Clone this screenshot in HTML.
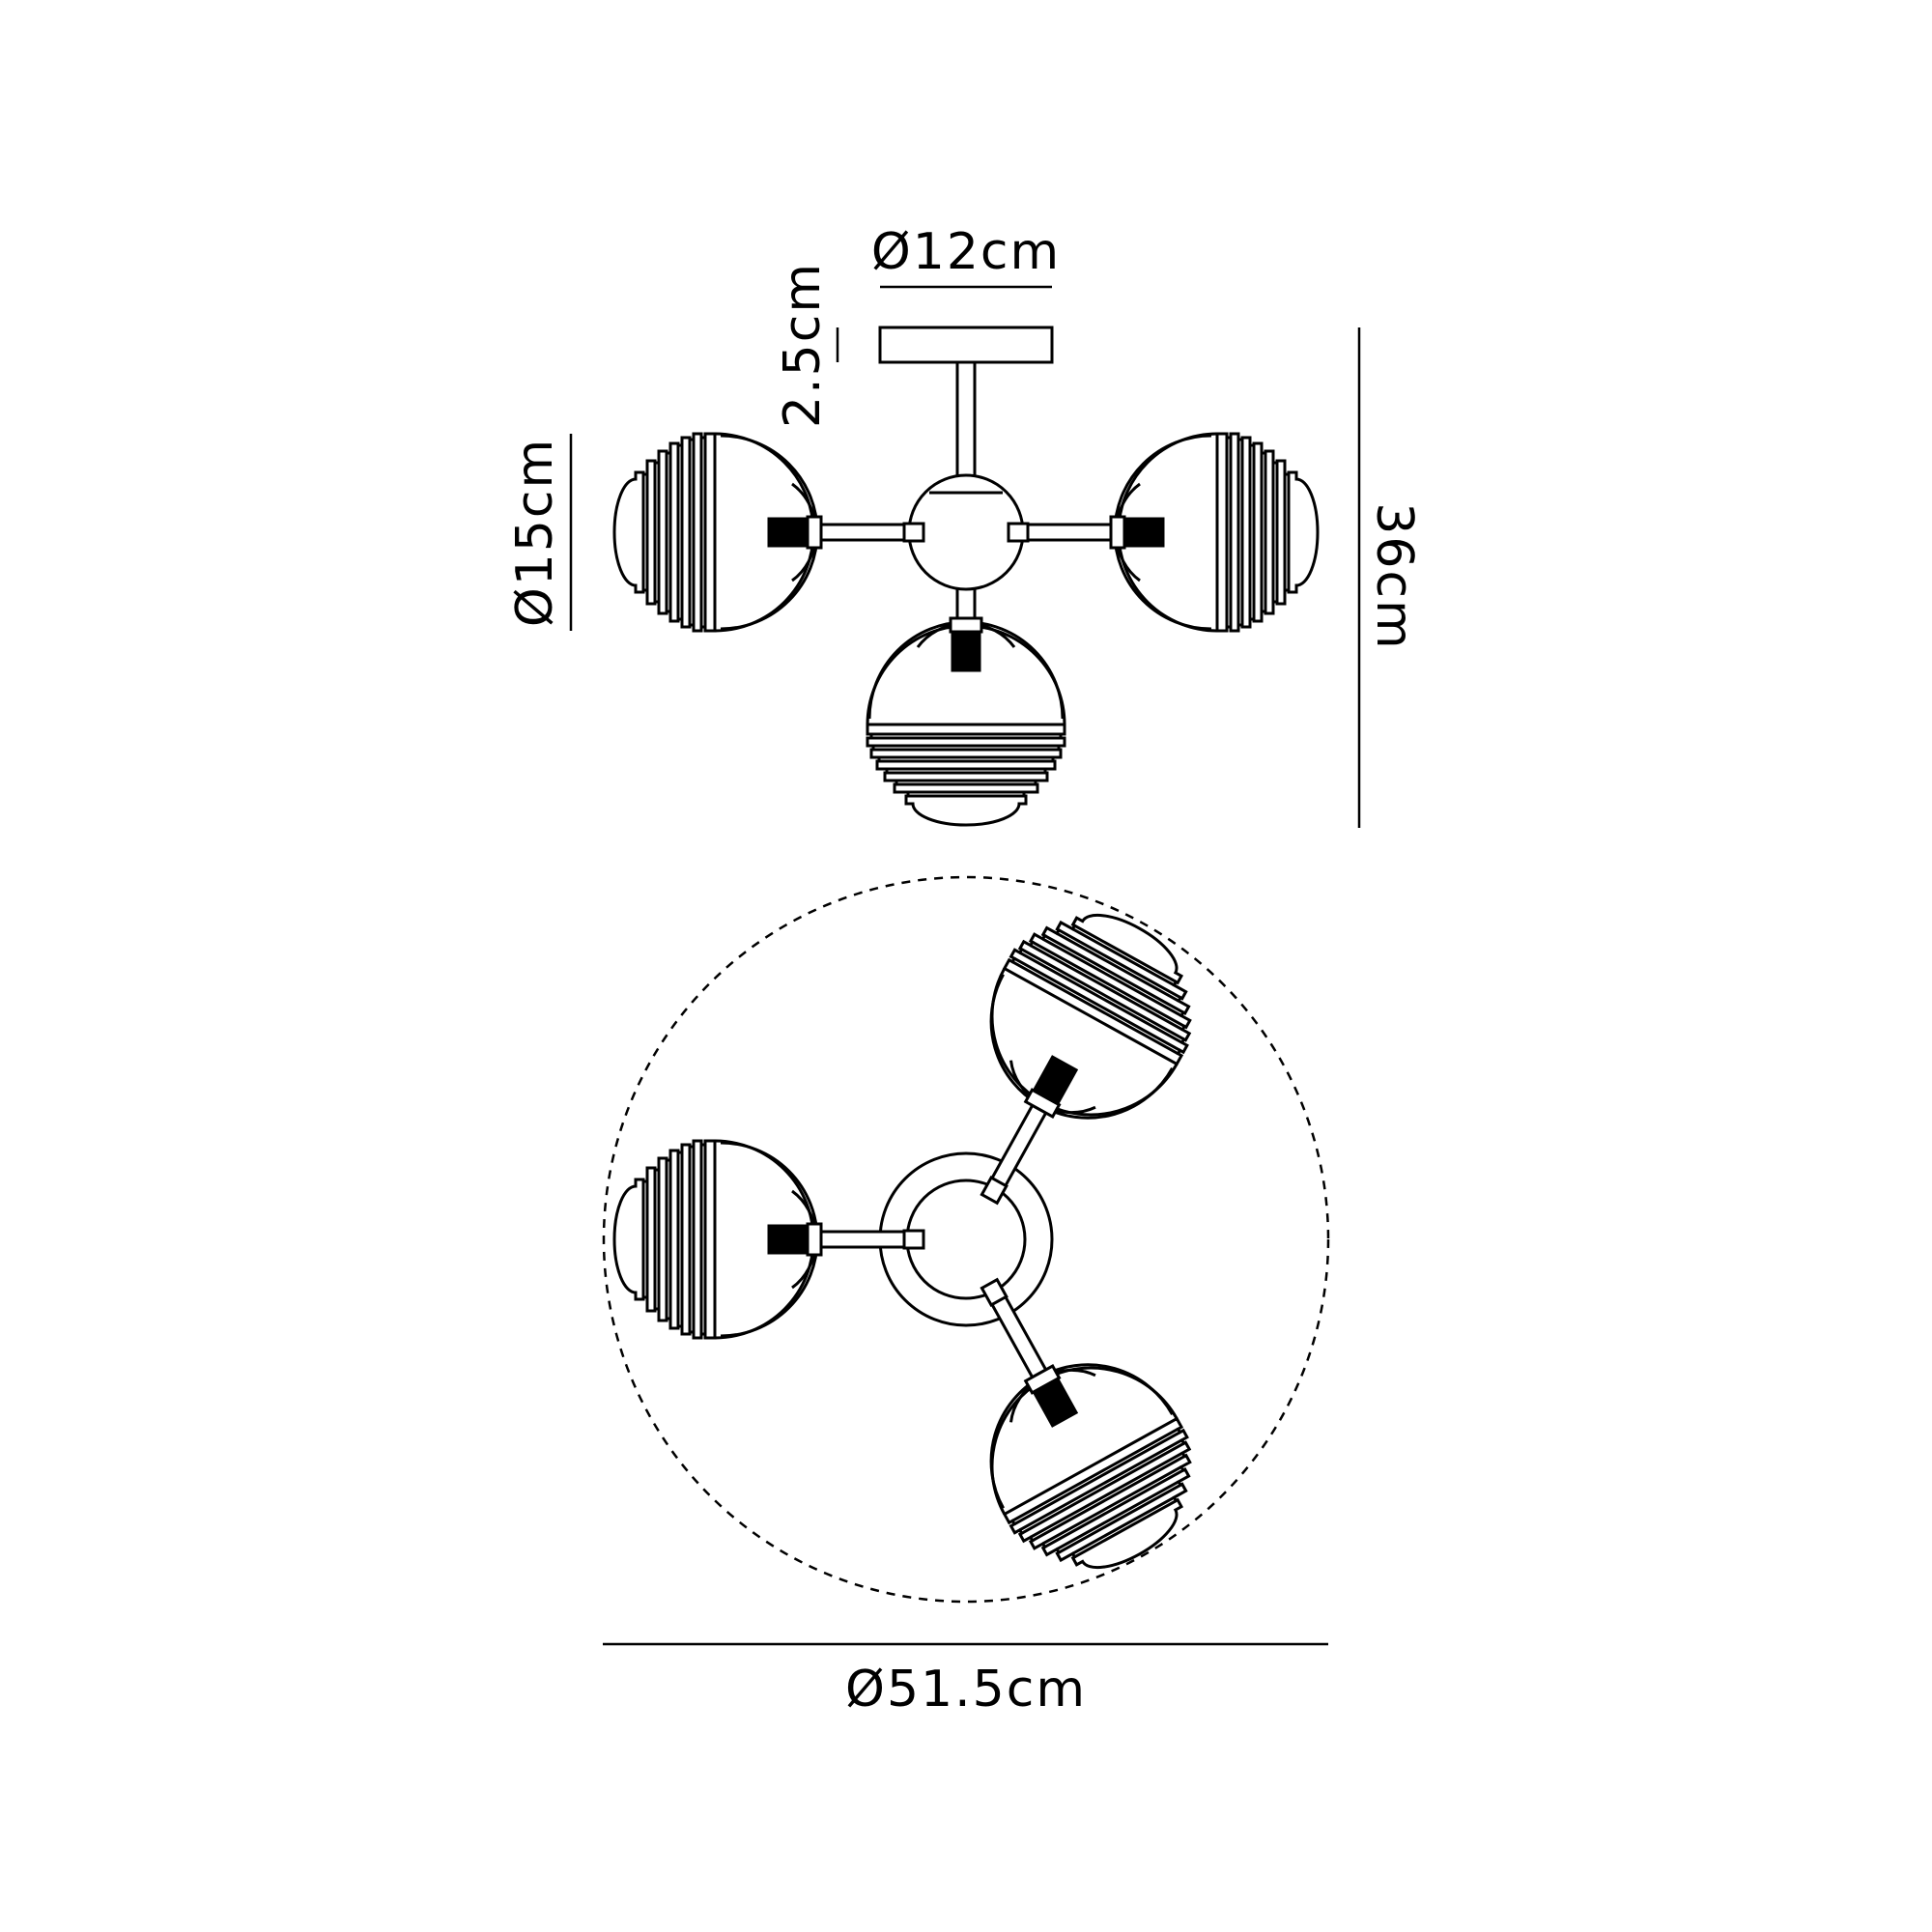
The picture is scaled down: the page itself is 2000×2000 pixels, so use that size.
<!DOCTYPE html>
<html><head><meta charset="utf-8"><style>html,body{margin:0;padding:0;background:#fff}svg{display:block}</style></head>
<body>
<svg width="2000" height="2000" viewBox="0 0 2000 2000" xmlns="http://www.w3.org/2000/svg">
<defs>
<g id="globe" fill="none" stroke="#000" stroke-width="3">
  <path d="M0,-102 A102,102 0 0 1 0,102" fill="#fff"/>
  <path d="M6,-100 A100,100 0 0 1 6,100"/>
  <path d="M80,-50 A55,60 0 0 1 80,50"/>
  <path d="M0,-102 H-10 V-98 H-14 V-102 H-22 V-96 H-26 V-98 H-34 V-90 H-38 V-92 H-46 V-82 H-50 V-84 H-58 V-72 H-62 V-74 H-70 V-60 H-74 V-62 H-82 V-55 A22,55 0 0 0 -82,55 V62 H-74 V60 H-70 V74 H-62 V72 H-58 V84 H-50 V82 H-46 V92 H-38 V90 H-34 V98 H-26 V96 H-22 V102 H-14 V98 H-10 V102 H0 Z" fill="#fff"/>
  <line x1="-10" y1="-98" x2="-10" y2="98"/>
  <line x1="-14" y1="-98" x2="-14" y2="98"/>
  <line x1="-22" y1="-96" x2="-22" y2="96"/>
  <line x1="-26" y1="-96" x2="-26" y2="96"/>
  <line x1="-34" y1="-90" x2="-34" y2="90"/>
  <line x1="-38" y1="-90" x2="-38" y2="90"/>
  <line x1="-46" y1="-82" x2="-46" y2="82"/>
  <line x1="-50" y1="-82" x2="-50" y2="82"/>
  <line x1="-58" y1="-72" x2="-58" y2="72"/>
  <line x1="-62" y1="-72" x2="-62" y2="72"/>
  <line x1="-70" y1="-60" x2="-70" y2="60"/>
  <line x1="-74" y1="-60" x2="-74" y2="60"/>
  <rect x="56" y="-14" width="40" height="28" fill="#000"/>
  <rect x="96" y="-16" width="14" height="32" fill="#fff"/>
</g>
<g id="arm" fill="#fff" stroke="#000" stroke-width="3">
  <rect x="110" y="-8" width="90" height="16"/>
  <rect x="196" y="-9" width="20" height="18"/>
</g>
</defs>

<g font-family="'DejaVu Sans','Liberation Sans',sans-serif" font-size="52" fill="#000" letter-spacing="2">
  <text x="1000" y="278" text-anchor="middle">Ø12cm</text>
  <text x="1000" y="1766" text-anchor="middle">Ø51.5cm</text>
  <text transform="translate(848,357) rotate(-90)" text-anchor="middle">2.5cm</text>
  <text transform="translate(571,551) rotate(-90)" text-anchor="middle">Ø15cm</text>
  <text transform="translate(1426,597) rotate(90)" text-anchor="middle">36cm</text>
</g>

<g stroke="#000" stroke-width="2.5" fill="none">
  <line x1="911" y1="297" x2="1089" y2="297"/>
  <line x1="867" y1="339" x2="867" y2="375"/>
  <line x1="591" y1="449" x2="591" y2="653"/>
  <line x1="1407" y1="339" x2="1407" y2="857"/>
  <line x1="624" y1="1702" x2="1375" y2="1702"/>
  <circle cx="1000" cy="1283" r="375" stroke-dasharray="9,8"/>
</g>

<!-- top view -->
<g stroke="#000" stroke-width="3" fill="#fff">
  <rect x="911" y="339" width="178" height="36"/>
  <rect x="991" y="375" width="18" height="122"/>
  <rect x="991" y="605" width="18" height="50"/>
  <circle cx="1000" cy="551" r="59"/>
  <line x1="962" y1="510" x2="1038" y2="510"/>
</g>
<use href="#arm" transform="translate(740,551)"/>
<use href="#globe" transform="translate(740,551)"/>
<use href="#arm" transform="translate(1260,551) rotate(180)"/>
<use href="#globe" transform="translate(1260,551) rotate(180)"/>
<use href="#globe" transform="translate(1000,750) rotate(-90)"/>

<!-- bottom view -->
<g stroke="#000" stroke-width="3" fill="#fff">
  <circle cx="1000" cy="1283" r="89"/>
  <circle cx="1000" cy="1283" r="61"/>
</g>
<use href="#arm" transform="translate(740,1283)"/>
<use href="#globe" transform="translate(740,1283)"/>
<use href="#arm" transform="translate(1129,1052) rotate(119)"/>
<use href="#globe" transform="translate(1129,1052) rotate(119)"/>
<use href="#arm" transform="translate(1129,1518) rotate(-119)"/>
<use href="#globe" transform="translate(1129,1518) rotate(-119)"/>
</svg>
</body></html>
